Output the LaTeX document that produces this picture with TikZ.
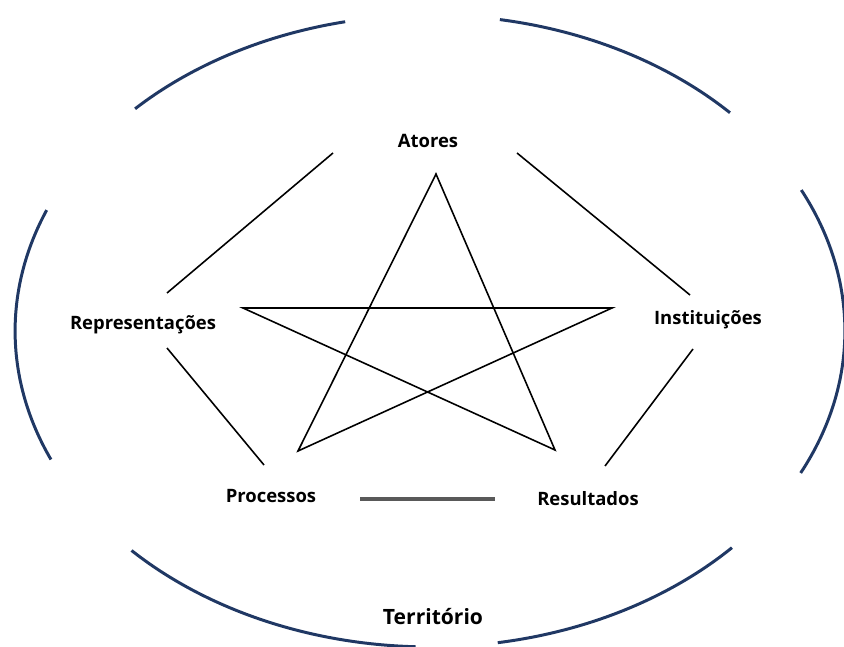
\documentclass[tikz,border=0pt]{standalone}
\usepackage{fontspec}
\setmainfont{Open Sans}
\usepackage{tikz}
\definecolor{navy}{HTML}{203864}
\tikzset{
        lbl/.style={font=\bfseries\fontsize{10.5}{12}\selectfont},
        arco/.style={draw=navy, line width=1.7pt},
        lig/.style={draw=black, line width=0.9pt}
}

\begin{document}
\begin{tikzpicture}[x=0.02cm, y=0.02cm]
        \useasboundingbox (0,0) rectangle (844,646);
        \coordinate (c) at (430,315);
        \foreach \a/\b in {-26.7/26.5, 43.7/80.3, 101.8/135.3, 157.5/204, 224/268, 279.4/316.7}
                \draw[arco] (c) ++(\a:8.3cm and 6.32cm) arc[start angle=\a, end angle=\b, x radius=8.3cm, y radius=6.32cm];

        \node[lbl] (atores) at (428,505) {Atores};
        \node[lbl] (inst) at (708,326) {Instituições};
        \node[lbl] (repr) at (143,321) {Representações};
        \node[lbl] (proc) at (271,150) {Processos};
        \node[lbl] (res) at (588,147) {Resultados};
        \node[font=\bfseries\fontsize{12}{14}\selectfont] (terr) at (433,29) {Território};

        \coordinate (a1) at (333,493); \coordinate (r1) at (167,353);
        \coordinate (a2) at (517,493); \coordinate (i1) at (690,351);
        \coordinate (r2) at (167,298); \coordinate (p1) at (264,181);
        \coordinate (i2) at (693,297); \coordinate (s1) at (605,180);
        \coordinate (p2) at (360,147); \coordinate (s2) at (495,147);
        \draw[lig] (a1) -- (r1);
        \draw[lig] (a2) -- (i1);
        \draw[lig] (r2) -- (p1);
        \draw[lig] (i2) -- (s1);
        \draw[draw=black!65, line width=1.8pt] (p2) -- (s2);

        \coordinate (st) at (436,472);
        \coordinate (sl) at (243,338);
        \coordinate (sr) at (612,338);
        \coordinate (sbl) at (298,195);
        \coordinate (sbr) at (555,196);
        \draw[lig, line join=miter] (st) -- (sbl) -- (sr) -- (sl) -- (sbr) -- cycle;
\end{tikzpicture}
\end{document}
